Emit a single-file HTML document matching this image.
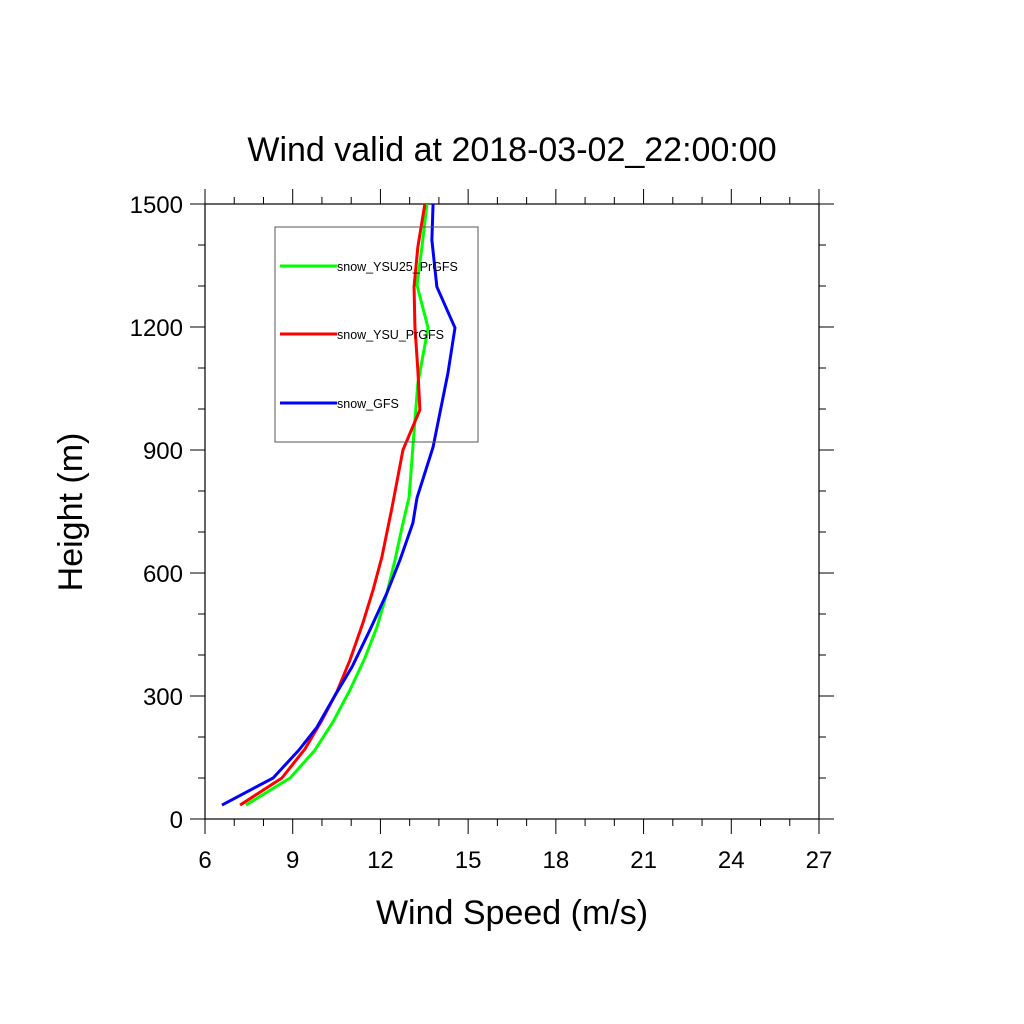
<!DOCTYPE html>
<html><head><meta charset="utf-8"><style>
html,body{margin:0;padding:0;background:#fff;}
svg{display:block;font-family:"Liberation Sans",sans-serif;}
</style></head><body>
<svg id="chart" width="1024" height="1024">
<text x="512" y="161" font-size="34" text-anchor="middle">Wind valid at 2018-03-02_22:00:00</text>
<text x="512" y="924" font-size="34" text-anchor="middle">Wind Speed (m/s)</text>
<text transform="translate(82,512) rotate(-90)" font-size="34" text-anchor="middle">Height (m)</text>
<rect x="205" y="204" width="614" height="615" fill="none" stroke="#000" stroke-width="1.2"/>
<g id="ticks"></g>
<g id="series"></g>
<g>
<rect x="275" y="227" width="203" height="215" fill="#fff" fill-opacity="0" stroke="#555" stroke-width="1"/>
<line x1="280" y1="266" x2="337" y2="266" stroke="#00ff00" stroke-width="3"/>
<text x="337" y="271" font-size="12.5">snow_YSU25_PrGFS</text>
<line x1="280" y1="334" x2="337" y2="334" stroke="#ff0000" stroke-width="3"/>
<text x="337" y="339" font-size="12.5">snow_YSU_PrGFS</text>
<line x1="280" y1="403" x2="337" y2="403" stroke="#0000ff" stroke-width="3"/>
<text x="337" y="408" font-size="12.5">snow_GFS</text>
</g>
</svg>
<script>
const xTicks=[6,9,12,15,18,21,24,27];
const yTicks=[0,300,600,900,1200,1500];
const greenH=[34,100,168,237,315,393,468,551,632,712,785,907,1063,1198,1302,1395,1500];
const greenV=[7.40,8.91,9.76,10.38,10.96,11.47,11.88,12.22,12.50,12.74,12.98,13.11,13.28,13.63,13.25,13.42,13.59];
const redH=[34,100,171,241,310,388,478,559,639,761,900,998,1095,1200,1298,1395,1500];
const redV=[7.20,8.63,9.42,10.0,10.51,10.96,11.40,11.75,12.05,12.40,12.77,13.35,13.28,13.18,13.15,13.28,13.52];
const blueH=[34,100,168,224,302,371,461,551,632,722,783,907,1088,1198,1298,1412,1500];
const blueV=[6.58,8.33,9.21,9.83,10.45,11.03,11.64,12.22,12.67,13.11,13.25,13.80,14.31,14.55,13.93,13.76,13.80];
const X0=205,X1=819,Y0=819,Y1=204,xmin=6,xmax=27,ymin=0,ymax=1500;
const sx=v=>X0+(v-xmin)/(xmax-xmin)*(X1-X0);
const sy=h=>Y0-(h-ymin)/(ymax-ymin)*(Y0-Y1);
const NS="http://www.w3.org/2000/svg";
const tg=document.getElementById('ticks');
function ln(g,x1,y1,x2,y2,c,w){const l=document.createElementNS(NS,'line');l.setAttribute('x1',x1);l.setAttribute('y1',y1);l.setAttribute('x2',x2);l.setAttribute('y2',y2);l.setAttribute('stroke',c);l.setAttribute('stroke-width',w);g.appendChild(l);return l;}
for(let v=xmin;v<=xmax;v++){const maj=(v-xmin)%3===0;const L=maj?15:7;const x=sx(v);
const a=ln(tg,x,Y0,x,Y0+L,'#000',1);


const b=ln(tg,x,Y1,x,Y1-L,'#000',1);

}
for(let h=ymin;h<=ymax;h+=100){const maj=h%300===0;const L=maj?15:7;const y=sy(h);
const a=ln(tg,X0,y,X0-L,y,'#000',1);


const b=ln(tg,X1,y,X1+L,y,'#000',1);

}
xTicks.forEach(v=>{const t=document.createElementNS(NS,'text');t.setAttribute('x',sx(v));t.setAttribute('y',868);t.setAttribute('font-size','24');t.setAttribute('text-anchor','middle');t.textContent=v;


tg.appendChild(t);});
yTicks.forEach(h=>{const t=document.createElementNS(NS,'text');t.setAttribute('x',183);t.setAttribute('y',sy(h)+9);t.setAttribute('font-size','24');t.setAttribute('text-anchor','end');t.textContent=h;


tg.appendChild(t);});
const sg=document.getElementById('series');
function series(V,H,c,name){const p=document.createElementNS(NS,'polyline');p.setAttribute('points',V.map((v,i)=>sx(v)+','+sy(H[i])).join(' '));p.setAttribute('fill','none');p.setAttribute('stroke',c);p.setAttribute('stroke-width','3');p.setAttribute('stroke-linejoin','round');


sg.appendChild(p);}
series(greenV,greenH,'#00ff00','line-snow-ysu25-prgfs');
series(redV,redH,'#ff0000','line-snow-ysu-prgfs');
series(blueV,blueH,'#0000ff','line-snow-gfs');
</script>
</body></html>
